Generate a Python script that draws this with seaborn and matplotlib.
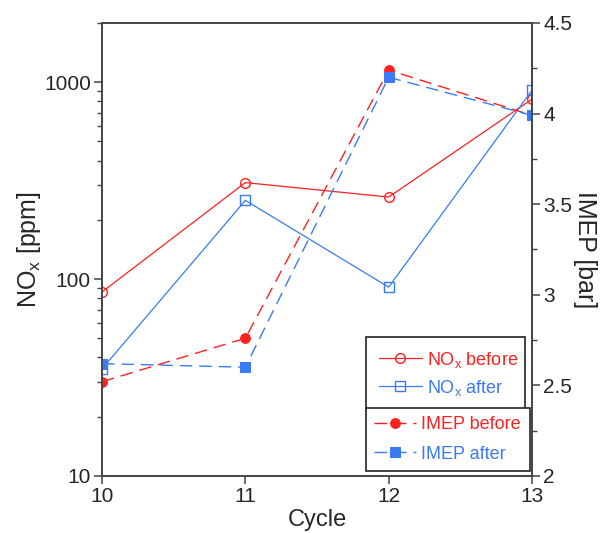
import matplotlib
matplotlib.use("Agg")
import matplotlib.pyplot as plt
import matplotlib.ticker as mticker
import seaborn as sns

sns.set_theme(style="ticks")
plt.rcParams["font.family"] = ["Liberation Sans", "DejaVu Sans"]
plt.rcParams["mathtext.default"] = "regular"

# Datos
cycles = [10, 11, 12, 13]
nox_before = [86, 309, 261, 820]
nox_after = [35, 251, 91, 910]
imep_before = [2.52, 2.76, 4.24, 3.99]
imep_after = [2.62, 2.60, 4.20, 3.99]

RED = "#ff2020"
BLUE = "#3a7af5"

fig = plt.figure(figsize=(6.12, 5.33), dpi=100)
ax = fig.add_axes([0.1667, 0.107, 0.7026, 0.850])
ax2 = ax.twinx()

# NOx (eje izquierdo, log)
sns.lineplot(x=cycles, y=nox_before, ax=ax, color=RED, lw=0.9, marker="o",
             markersize=7, markerfacecolor="none", markeredgecolor=RED,
             markeredgewidth=1.0, label="NO$_x$ before")
sns.lineplot(x=cycles, y=nox_after, ax=ax, color=BLUE, lw=0.9, marker="s",
             markersize=7, markerfacecolor="none", markeredgecolor=BLUE,
             markeredgewidth=1.0, label="NO$_x$ after")

# IMEP (eje derecho)
sns.lineplot(x=cycles, y=imep_before, ax=ax2, color=RED, lw=1.0, marker="o",
             markersize=7, markeredgecolor=RED, linestyle=(0, (9, 5)),
             label="IMEP before")
sns.lineplot(x=cycles, y=imep_after, ax=ax2, color=BLUE, lw=1.0, marker="s",
             markersize=7, markeredgecolor=BLUE, linestyle=(0, (9, 5)),
             label="IMEP after")

ax.set_yscale("log")
ax.set_ylim(10, 2000)
ax.set_xlim(10, 13)
ax.set_xticks(cycles)
ax.yaxis.set_major_locator(mticker.LogLocator(base=10))
ax.yaxis.set_major_formatter(mticker.FormatStrFormatter("%d"))
ax.yaxis.set_minor_locator(mticker.LogLocator(base=10, subs=range(2, 10)))
ax.yaxis.set_minor_formatter(mticker.NullFormatter())

ax2.set_ylim(2, 4.5)
ax2.set_yticks([2, 2.5, 3, 3.5, 4, 4.5])
ax2.set_yticklabels(["2", "2.5", "3", "3.5", "4", "4.5"])
ax2.yaxis.set_minor_locator(mticker.MultipleLocator(0.25))

ax.set_xlabel("Cycle", fontsize=17, labelpad=2)
ax.set_ylabel("NO$_x$ [ppm]", fontsize=18, labelpad=1)
ax2.set_ylabel("IMEP [bar]", fontsize=18, rotation=270, labelpad=18)

for a in (ax, ax2):
    for sp in a.spines.values():
        sp.set_color("#444444")
        sp.set_linewidth(1.2)
    a.tick_params(which="major", length=6, width=1.1, color="#444444",
                  labelsize=15, pad=2)
    a.tick_params(which="minor", length=3.5, width=1.0, color="#444444")
ax.tick_params(axis="x", which="minor", length=0)

leg1 = ax.legend(loc="upper left", bbox_to_anchor=(0.614, 0.307, 0.370, 0),
                 mode="expand", borderaxespad=0, fontsize=13, frameon=True,
                 fancybox=False, edgecolor="#222222", framealpha=1,
                 labelcolor="linecolor", handlelength=2.4, handletextpad=0.25,
                 borderpad=0.7, labelspacing=0.45)
leg1.get_frame().set_linewidth(1.2)
leg2 = ax2.legend(loc="upper left", bbox_to_anchor=(0.614, 0.150, 0.381, 0),
                  mode="expand", borderaxespad=0, fontsize=13, frameon=True,
                  fancybox=False, edgecolor="#222222", framealpha=1,
                  labelcolor="linecolor", handlelength=2.3, handletextpad=0.3,
                  borderpad=0.45, labelspacing=0.7)
leg2.get_frame().set_linewidth(1.2)

fig.savefig("out.png", dpi=100)
